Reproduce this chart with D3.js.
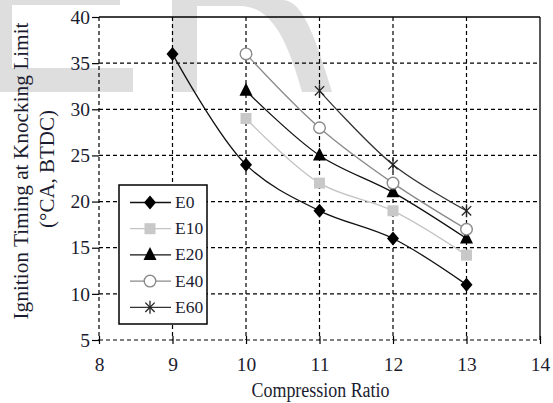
<!DOCTYPE html>
<html><head><meta charset="utf-8">
<script src="https://cdn.jsdelivr.net/npm/d3@7"></script>
<style>body{margin:0;background:#fff}svg{display:block}text{font-family:"Liberation Serif","Times New Roman",serif}</style>
</head><body>
<script>
const xTicks = [8, 9, 10, 11, 12, 13, 14];
const yTicks = [5, 10, 15, 20, 25, 30, 35, 40];
const seriesNames = ["E0", "E10", "E20", "E40", "E60"];
const E0  = [[9, 36], [10, 24], [11, 19], [12, 16], [13, 11]];
const E10 = [[10, 29], [11, 22], [12, 19], [13, 14.2]];
const E20 = [[10, 32], [11, 25], [12, 21], [13, 16]];
const E40 = [[10, 36], [11, 28], [12, 22], [13, 17]];
const E60 = [[11, 32], [12, 24], [13, 19]];
const xLabel = "Compression Ratio";
const yLabel1 = "Ignition Timing at Knocking Limit";
const yLabel2 = "(°CA, BTDC)";

const W = 553, H = 403;
const M = {l: 99, r: 540, t: 17, b: 340};
const svg = d3.select("body").append("svg").attr("width", W).attr("height", H);
const tc = "#1c1c30";

// watermark
const wm = svg.append("g").attr("fill", "#dedede");
wm.append("path").attr("d", "M0,0 L120,0 L120,5 L12,5 L12,68 L133,68 L133,92 L0,92 Z");
wm.append("path").attr("d", "M172,0 L282,0 C300,0 312,25 332,92 L302,92 C288,42 272,6 240,6 L197,6 L197,92 L172,92 Z");

const x = d3.scaleLinear().domain([8, 14]).range([M.l, M.r]);
const y = d3.scaleLinear().domain([5, 40]).range([M.b, M.t]);

const g = svg.append("g");
g.append("g").selectAll("line").data(xTicks.slice(0, -1)).join("line")
  .attr("x1", d => x(d)).attr("x2", d => x(d)).attr("y1", M.t).attr("y2", M.b)
  .attr("stroke", "#000").attr("stroke-width", 1.2).attr("stroke-dasharray", "4,3");
g.append("g").selectAll("line").data(yTicks.slice(0, -1)).join("line")
  .attr("y1", d => y(d)).attr("y2", d => y(d)).attr("x1", M.l).attr("x2", M.r)
  .attr("stroke", "#000").attr("stroke-width", 1.2).attr("stroke-dasharray", "4,3");
g.append("line").attr("x1", M.l).attr("x2", M.r).attr("y1", M.t).attr("y2", M.t).attr("stroke", "#000").attr("stroke-width", 1.3);
g.append("line").attr("x1", M.r).attr("x2", M.r).attr("y1", M.t).attr("y2", M.b).attr("stroke", "#000").attr("stroke-width", 1.3);

const yAxis = d3.axisLeft(y).tickValues(yTicks).tickFormat(d3.format("d")).tickSize(7).tickPadding(2);
const ya = svg.append("g").attr("transform", `translate(${M.l},0)`).call(yAxis);
ya.select(".domain").remove();
ya.attr("font-family", null).attr("font-size", null);
ya.selectAll("text").style("font-size", "19.5px").attr("fill", tc);
ya.selectAll("line").attr("stroke-width", 1.2);

const xAxis = d3.axisBottom(x).tickValues(xTicks).tickFormat(d3.format("d")).tickSizeInner(4).tickSizeOuter(0).tickPadding(13);
const xa = svg.append("g").attr("transform", `translate(0,${M.b})`).call(xAxis);
xa.select(".domain").remove();
xa.attr("font-family", null).attr("font-size", null);
xa.selectAll(".tick line").attr("y1", -4).attr("stroke-width", 1.2);
xa.selectAll("text").style("font-size", "19.5px").attr("fill", tc);

svg.append("text").attr("x", (M.l + M.r) / 2 + 1).attr("y", 397).attr("text-anchor", "middle")
  .style("font-size", "20.5px").attr("fill", tc).attr("textLength", 138).attr("lengthAdjust", "spacingAndGlyphs").text(xLabel);
svg.append("text").attr("transform", "translate(28,171) rotate(-90)").attr("text-anchor", "middle")
  .style("font-size", "20.5px").attr("fill", tc).attr("textLength", 297).attr("lengthAdjust", "spacingAndGlyphs").text(yLabel1);
svg.append("text").attr("transform", "translate(54,169) rotate(-90)").attr("text-anchor", "middle")
  .style("font-size", "20.5px").attr("fill", tc).attr("textLength", 118).attr("lengthAdjust", "spacingAndGlyphs").text(yLabel2);

const styles = {
  E0:  {data: E0,  line: "#111", marker: "diamond"},
  E10: {data: E10, line: "#c4c4c4", marker: "square"},
  E20: {data: E20, line: "#111", marker: "triangle"},
  E40: {data: E40, line: "#8a8a8a", marker: "circle"},
  E60: {data: E60, line: "#333", marker: "star"}
};

function drawMarker(sel, type, cx, cy) {
  if (type === "diamond") {
    sel.append("path").attr("d", `M${cx},${cy-7}L${cx+6},${cy}L${cx},${cy+7}L${cx-6},${cy}Z`).attr("fill", "#000");
  } else if (type === "square") {
    sel.append("rect").attr("x", cx - 5.5).attr("y", cy - 5.5).attr("width", 11).attr("height", 11).attr("fill", "#c8c8c8");
  } else if (type === "triangle") {
    sel.append("path").attr("d", `M${cx},${cy-8}L${cx+6.5},${cy+5}L${cx-6.5},${cy+5}Z`).attr("fill", "#000");
  } else if (type === "circle") {
    sel.append("circle").attr("cx", cx).attr("cy", cy).attr("r", 5.8).attr("fill", "#fff").attr("stroke", "#8a8a8a").attr("stroke-width", 1.4);
  } else if (type === "star") {
    const r = 6.5, d = r * 0.72;
    const p = sel.append("g").attr("stroke", "#222").attr("stroke-width", 1.3);
    p.append("line").attr("x1", cx).attr("x2", cx).attr("y1", cy - r).attr("y2", cy + r);
    p.append("line").attr("x1", cx - d).attr("x2", cx + d).attr("y1", cy - d).attr("y2", cy + d);
    p.append("line").attr("x1", cx - d).attr("x2", cx + d).attr("y1", cy + d).attr("y2", cy - d);
  }
}

const line = d3.line().x(d => x(d[0])).y(d => y(d[1])).curve(d3.curveCatmullRom.alpha(0.5));
const plot = svg.append("g");
seriesNames.forEach(n => {
  const s = styles[n];
  plot.append("path").attr("d", line(s.data)).attr("fill", "none").attr("stroke", s.line).attr("stroke-width", 1.3);
});
seriesNames.forEach(n => {
  const s = styles[n];
  s.data.forEach(d => drawMarker(plot, s.marker, x(d[0]), y(d[1])));
});

const lg = svg.append("g");
lg.append("rect").attr("x", 119).attr("y", 185).attr("width", 88).attr("height", 139)
  .attr("fill", "#fff").attr("stroke", "#000").attr("stroke-width", 1.5);
seriesNames.forEach((n, i) => {
  const s = styles[n];
  const ly = 202.5 + i * 26.2;
  lg.append("line").attr("x1", 130).attr("x2", 171).attr("y1", ly).attr("y2", ly).attr("stroke", s.line).attr("stroke-width", 1.3);
  drawMarker(lg, s.marker, 150, ly);
  lg.append("text").attr("x", 175).attr("y", ly + 5.5).style("font-size", "17.5px").attr("fill", tc).text(n);
});
</script>
</body></html>
